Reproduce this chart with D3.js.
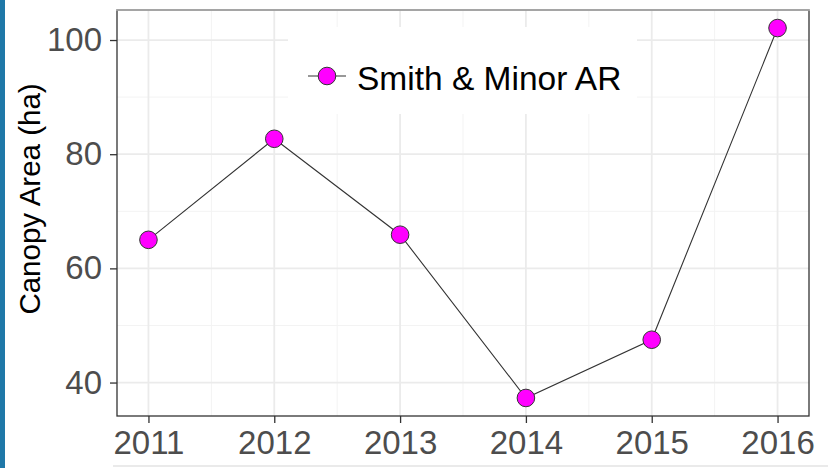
<!DOCTYPE html>
<html lang="en">
<head>
<meta charset="UTF-8">
<title>Canopy Area</title>
<script src="https://d3js.org/d3.v7.min.js"></script>
<style>
body { margin: 0; background: #fff; }
svg { display: block; font-family: Arial, "Liberation Sans", sans-serif; }
</style>
</head>
<body>
<svg width="828" height="468"></svg>
<script>
// data
var years = [2011, 2012, 2013, 2014, 2015, 2016];
var canopy = [65.0, 82.7, 65.9, 37.3, 47.5, 102.1];
var yTicks = [40, 60, 80, 100];
var seriesName = 'Smith & Minor AR';

(function() {
var svg = d3.select('svg');
var pLeft = 117, pRight = 809, pTop = 10, pBottom = 416;

var x = d3.scaleLinear().domain([2010.75, 2016.25]).range([pLeft, pRight]);
var y = d3.scaleLinear().domain([34.14, 105.26]).range([pBottom, pTop]);

// blue strip on the left edge
svg.append('rect').attr('x', 0).attr('y', 0).attr('width', 5).attr('height', 468).attr('fill', '#1f78a8');
svg.append('line').attr('x1', 113).attr('x2', 828).attr('y1', 466).attr('y2', 466)
    .attr('stroke', '#e3e3e3').attr('stroke-width', 1.5);

// grid
var g = svg.append('g');
var minorX = [2011.5, 2012.5, 2013.5, 2014.5, 2015.5];
var minorY = [50, 70, 90];
g.selectAll('.mx').data(minorX).enter().append('line')
    .attr('x1', x).attr('x2', x).attr('y1', pTop).attr('y2', pBottom)
    .attr('stroke', '#f3f3f3').attr('stroke-width', 1);
g.selectAll('.my').data(minorY).enter().append('line')
    .attr('y1', y).attr('y2', y).attr('x1', pLeft).attr('x2', pRight)
    .attr('stroke', '#f3f3f3').attr('stroke-width', 1);
g.selectAll('.gx').data(years).enter().append('line')
    .attr('x1', x).attr('x2', x).attr('y1', pTop).attr('y2', pBottom)
    .attr('stroke', '#ebebeb').attr('stroke-width', 1.8);
g.selectAll('.gy').data(yTicks).enter().append('line')
    .attr('y1', y).attr('y2', y).attr('x1', pLeft).attr('x2', pRight)
    .attr('stroke', '#ebebeb').attr('stroke-width', 1.8);

// legend box (inside panel, drawn under the data)
svg.append('rect').attr('x', 288).attr('y', 27).attr('width', 349).attr('height', 87).attr('fill', '#fff');

// line + points
var pts = years.map(function(d, i) { return [d, canopy[i]]; });
svg.append('path').datum(pts)
    .attr('d', d3.line().x(function(d) { return x(d[0]); }).y(function(d) { return y(d[1]); }))
    .attr('fill', 'none').attr('stroke', '#333').attr('stroke-width', 1.1);
svg.selectAll('.pt').data(pts).enter().append('circle')
    .attr('cx', function(d) { return x(d[0]); })
    .attr('cy', function(d) { return y(d[1]); })
    .attr('r', 8.8)
    .attr('fill', '#ff00ff').attr('stroke', '#333').attr('stroke-width', 1);

// panel border
svg.append('rect').attr('x', pLeft).attr('y', pTop).attr('width', pRight - pLeft).attr('height', pBottom - pTop)
    .attr('fill', 'none').attr('stroke', '#333').attr('stroke-width', 1.3);
svg.append('line').attr('x1', pLeft - 1).attr('x2', pRight + 1).attr('y1', pTop).attr('y2', pTop)
    .attr('stroke', '#b5b5b5').attr('stroke-width', 1.6);

// axes
var xAxis = d3.axisBottom(x).tickValues(years).tickFormat(d3.format('d')).tickSize(7).tickPadding(8);
var yAxis = d3.axisLeft(y).tickValues(yTicks).tickSize(7).tickPadding(8);
var ax = svg.append('g').attr('transform', 'translate(0,' + pBottom + ')').call(xAxis);
var ay = svg.append('g').attr('transform', 'translate(' + pLeft + ',0)').call(yAxis);
[ax, ay].forEach(function(a) {
    a.select('.domain').remove();
    a.selectAll('.tick line').attr('stroke', '#333').attr('stroke-width', 1.3);
    a.selectAll('.tick text').attr('fill', '#4d4d4d').attr('font-size', 33)
        .attr('font-family', 'Arial, "Liberation Sans", sans-serif');
});

// y title
svg.append('text')
    .attr('transform', 'translate(40,199) rotate(-90)')
    .attr('text-anchor', 'middle')
    .attr('font-size', 29.5)
    .attr('fill', '#000')
    .text('Canopy Area (ha)');

// legend
var lg = svg.append('g');
lg.append('line').attr('x1', 308).attr('x2', 346).attr('y1', 76).attr('y2', 76)
    .attr('stroke', '#333').attr('stroke-width', 1.1);
lg.append('circle').attr('cx', 327).attr('cy', 76).attr('r', 8.8)
    .attr('fill', '#ff00ff').attr('stroke', '#333').attr('stroke-width', 1);
lg.append('text').attr('x', 357).attr('y', 90).attr('font-size', 33.5).attr('fill', '#000')
    .text(seriesName);
})();
</script>
</body>
</html>
